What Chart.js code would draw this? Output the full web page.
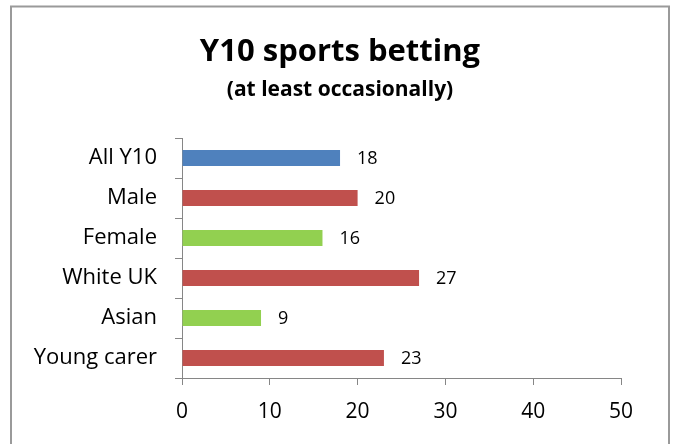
<!DOCTYPE html>
<html lang="en">
<head>
  <meta charset="UTF-8">
  <title>Y10 sports betting</title>
  <script src="https://cdn.jsdelivr.net/npm/chart.js"></script>
  <style>
    html, body {
      margin: 0;
      padding: 0;
      background: #ffffff;
    }
    #chart-wrap {
      width: 678px;
      height: 444px;
    }
  </style>
</head>
<body>
  <div id="chart-wrap">
    <canvas id="bettingChart" width="678" height="444"></canvas>
  </div>

  <script>
    const chartTitle = 'Y10 sports betting';
    const chartSubtitle = '(at least occasionally)';
    const groups = ['All Y10', 'Male', 'Female', 'White UK', 'Asian', 'Young carer'];
    const percentages = [18, 20, 16, 27, 9, 23];
    const barColours = ['#4F81BD', '#C0504D', '#92D050', '#C0504D', '#92D050', '#C0504D'];
    const xTicks = [0, 10, 20, 30, 40, 50];

    const fontFamily = '"Open Sans", Lato, sans-serif';
    const axisGrey = '#868686';

    // grey frame round the whole chart, plus the two heading lines centred on it
    const frame = {
      id: 'frame',
      beforeDraw(chart) {
        const ctx = chart.ctx;
        ctx.save();
        ctx.fillStyle = '#ffffff';
        ctx.fillRect(0, 0, chart.width, chart.height);
        ctx.strokeStyle = '#9a9a9a';
        ctx.lineWidth = 2;
        ctx.strokeRect(11, 6.5, 658, 460);

        const cx = 340;
        ctx.fillStyle = '#000000';
        ctx.textAlign = 'center';
        ctx.textBaseline = 'alphabetic';
        ctx.font = 'bold 31px ' + fontFamily;
        ctx.fillText(chartTitle, cx, 61);
        ctx.font = 'bold 21px ' + fontFamily;
        ctx.fillText(chartSubtitle, cx, 96);
        ctx.restore();
      }
    };

    // value written just past the end of each bar
    const valueLabels = {
      id: 'valueLabels',
      afterDatasetsDraw(chart) {
        const ctx = chart.ctx;
        const meta = chart.getDatasetMeta(0);
        ctx.save();
        ctx.font = '18px ' + fontFamily;
        ctx.fillStyle = '#000000';
        ctx.textBaseline = 'middle';
        ctx.textAlign = 'left';
        meta.data.forEach((bar, i) => {
          ctx.fillText(String(percentages[i]), bar.x + 17, bar.y + 1);
        });
        ctx.restore();
      }
    };

    const ctx = document.getElementById('bettingChart').getContext('2d');
    new Chart(ctx, {
      type: 'bar',
      data: {
        labels: groups,
        datasets: [{
          data: percentages,
          backgroundColor: barColours,
          borderWidth: 0,
          categoryPercentage: 1,
          barPercentage: 0.4
        }]
      },
      options: {
        indexAxis: 'y',
        responsive: false,
        animation: false,
        devicePixelRatio: 1,
        layout: {
          padding: { left: 0, right: 57, top: 138, bottom: 0 }
        },
        plugins: {
          legend: { display: false },
          tooltip: { enabled: false },
          title: { display: false }
        },
        scales: {
          x: {
            min: 0,
            max: 50,
            afterBuildTicks(scale) {
              scale.ticks = xTicks.map(v => ({ value: v }));
            },
            afterFit(scale) {
              scale.height = 444 - 378;
            },
            grid: {
              drawOnChartArea: false,
              drawTicks: true,
              tickLength: 7,
              color: axisGrey
            },
            border: { display: true, color: axisGrey, width: 1 },
            ticks: {
              color: '#000000',
              padding: 14,
              maxRotation: 0,
              font: { family: fontFamily, size: 21 }
            }
          },
          y: {
            afterFit(scale) {
              scale.width = 182;
            },
            grid: {
              drawOnChartArea: false,
              drawTicks: true,
              tickLength: 7,
              offset: true,
              color: axisGrey
            },
            border: { display: true, color: axisGrey, width: 1 },
            ticks: {
              color: '#000000',
              padding: 18,
              font: { family: fontFamily, size: 22 }
            }
          }
        }
      },
      plugins: [frame, valueLabels]
    });
  </script>
</body>
</html>
